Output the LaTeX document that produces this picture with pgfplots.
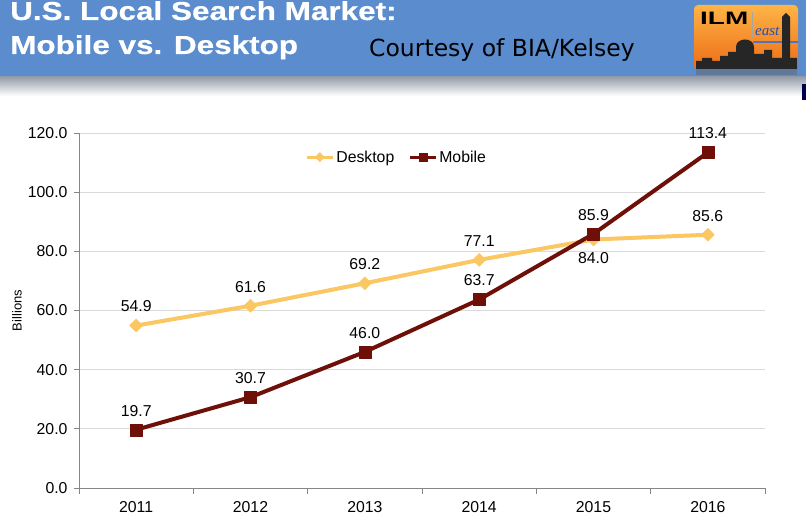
\documentclass[border=0pt]{standalone}
\usepackage{fontspec}
\setmainfont{Liberation Sans}
\newfontfamily\seriffont{Liberation Serif}
\newfontfamily\titlefont{Liberation Sans}[FakeStretch=1.21, BoldFeatures={FakeBold=0.5}]
\newfontfamily\courtfont{DejaVu Sans}
\usepackage{graphicx}
\usepackage{pgfplots}
\pgfplotsset{compat=1.18}
\definecolor{banner}{RGB}{90,140,206}
\definecolor{desk}{RGB}{250,199,98}
\definecolor{mob}{RGB}{110,16,8}
\definecolor{axgray}{RGB}{134,134,134}
\definecolor{gridgray}{RGB}{217,217,217}
\definecolor{shadowgray}{RGB}{150,158,170}
\definecolor{logotop}{RGB}{255,180,70}
\definecolor{logobot}{RGB}{236,108,22}
\definecolor{eastblue}{RGB}{40,80,170}
\begin{document}
\begin{tikzpicture}[x=1pt,y=1pt]
\fill[white] (0,0) rectangle (806,532);
\path[use as bounding box] (0,0) rectangle (806,532);
\begin{scope}[yshift=532pt,yscale=-1]
  % banner
  \fill[banner] (0,0) rectangle (806,77);
  \shade[top color=shadowgray, bottom color=white] (0,77) rectangle (806,96);
  % titles
  \node[anchor=base west, inner sep=0, text=white, font=\titlefont\bfseries\fontsize{26}{30}\selectfont] at (10,20) {U.S. Local Search Market:};
  \node[anchor=base west, inner sep=0, text=white, font=\titlefont\bfseries\fontsize{26}{30}\selectfont] at (10,54) {Mobile vs. Desktop};
  \node[anchor=base west, inner sep=0, text=black, font=\courtfont\fontsize{23.5}{28}\selectfont] at (369,57) {Courtesy of BIA/Kelsey};
  % logo
  \shade[top color=logotop, bottom color=logobot, rounded corners=4pt] (694,5) rectangle (798,70);
  \node[anchor=base west, inner sep=0, font=\fontsize{18}{20}\selectfont\bfseries] at (700,25) {\scalebox{1.55}[1]{ILM}};
  \draw[gray!70, line width=0.6pt] (752,12) -- (752,38);
  \node[anchor=base west, inner sep=0, text=eastblue, font=\seriffont\itshape\fontsize{15}{16}\selectfont] at (755,36) {east};
  \draw[eastblue!80, line width=2pt] (753,42) -- (798,42);
  \fill[black!85] (696,69) -- (696,61) -- (702,61) -- (702,58) -- (712,58) -- (712,61) -- (720,61) -- (720,56) -- (728,56) -- (728,52) -- (736,52) -- (736,47)
     .. controls (736,37) and (754,37) .. (754,47) -- (754,54) -- (764,54) -- (764,50) -- (772,50) -- (772,58) -- (782,58) -- (782,17) -- (786,13) -- (790,17) -- (790,58) -- (797,58) -- (797,69) -- cycle;
  \fill[black!60,opacity=0.5] (696,69) rectangle (797,75);
  \fill[blue!30!black] (802,84) rectangle (806,100);
\end{scope}

\begin{axis}[
  at={(79pt,44pt)}, anchor=south west, scale only axis,
  width=686pt, height=355pt,
  xmin=-0.5, xmax=5.5, ymin=0, ymax=120,
  axis lines*=left,
  axis line style={axgray, line width=0.8pt},
  clip=false,
  xtick={0,1,2,3,4,5},
  xticklabels={2011,2012,2013,2014,2015,2016},
  major x tick style={draw=none},
  minor xtick={-0.5,0.5,1.5,2.5,3.5,4.5,5.5},
  minor x tick style={axgray, line width=0.8pt},
  minor tick length=6pt,
  ytick={0,20,40,60,80,100,120},
  major tick length=5pt,
  y tick style={axgray, line width=0.8pt},
  tick align=outside,
  ymajorgrids, y grid style={gridgray, line width=0.8pt},
  /pgf/number format/.cd, fixed, fixed zerofill, precision=1, assume math mode=true,
  /pgfplots/.cd,
  tick label style={font=\fontsize{15.8}{18}\selectfont},
  xticklabel style={yshift=-5pt},
  yticklabel style={xshift=-3pt},
  ylabel={Billions},
  every axis y label/.style={at={(axis description cs:-0.0904,0.5)}, rotate=90, anchor=center, font=\fontsize{13}{15}\selectfont},
  legend style={at={(axis description cs:0.463,0.932)}, anchor=center, draw=none, fill=none,
     font=\fontsize{15.8}{18}\selectfont, legend columns=2,
     /tikz/every even column/.append style={column sep=12pt}},
  legend cell align=left,
  legend image code/.code={\draw[mark repeat=2,mark phase=2,#1] plot coordinates {(0pt,0pt) (13pt,0pt) (26pt,0pt)};},
  every node near coord/.append style={font=\fontsize{15.8}{18}\selectfont, text=black},
]
\addlegendimage{desk, line width=3pt, mark=square*, mark size=3.2pt, mark options={rotate=45, fill=desk, draw=desk, line width=0.4pt}}
\addlegendentry{Desktop}
\addlegendimage{mob, line width=3pt, mark=square*, mark size=4pt, mark options={fill=mob, draw=mob, line width=0.4pt}}
\addlegendentry{Mobile}

\addplot[forget plot, desk, line width=4pt, line join=round, mark=square*, mark size=4.6pt,
   mark options={rotate=45, fill=desk, draw=desk, line width=0.4pt}]
  coordinates {(0,54.9) (1,61.6) (2,69.2) (3,77.1) (4,84.0) (5,85.6)};
\addplot[forget plot, mob, line width=4pt, line join=round, mark=square*, mark size=6pt,
   mark options={fill=mob, draw=mob, line width=0.4pt}]
  coordinates {(0,19.7) (1,30.7) (2,46.0) (3,63.7) (4,85.9) (5,113.4)};

% data labels
\addplot[forget plot, draw=none, mark=none, nodes near coords,
   every node near coord/.append style={anchor=south, yshift=10pt}]
  coordinates {(0,54.9) (1,61.6) (2,69.2) (3,77.1) (5,85.6)};
\addplot[forget plot, draw=none, mark=none, nodes near coords,
   every node near coord/.append style={anchor=north, yshift=-9pt}]
  coordinates {(4,84.0)};
\addplot[forget plot, draw=none, mark=none, nodes near coords,
   every node near coord/.append style={anchor=south, yshift=10pt}]
  coordinates {(0,19.7) (1,30.7) (2,46.0) (3,63.7) (4,85.9) (5,113.4)};
\end{axis}
\end{tikzpicture}
\end{document}
